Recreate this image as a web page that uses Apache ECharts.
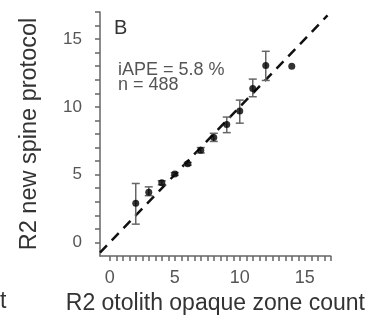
<!DOCTYPE html>
<html><head><meta charset="utf-8">
<script src="https://cdn.jsdelivr.net/npm/echarts@6/dist/echarts.min.js"></script>
<style>html,body{margin:0;padding:0;background:#fff}#c{width:368px;height:320px}</style>
</head><body><div id="c"></div>
<script>
// Data
const xCounts   = [2, 3, 4, 5, 6, 7, 8, 9, 10, 11, 12, 14];
const yMeans    = [2.9, 3.7, 4.4, 5.05, 5.8, 6.8, 7.75, 8.7, 9.7, 11.35, 13.05, 13.0];
const yLow      = [1.35, 3.45, 4.25, 4.95, 5.7, 6.6, 7.45, 8.1, 8.8, 10.75, 11.95, null];
const yHigh     = [4.35, 4.1, 4.55, 5.15, 5.9, 7.0, 8.05, 9.25, 10.5, 12.05, 14.1, null];
const lineXY    = [-0.75, 16.75];           // 1:1 reference line extent
const xTickLabels = [0, 5, 10, 15];
const yTickLabels = [0, 5, 10, 15];
const xTicks = [0,0.5,1,1.5,2,2.5,3,3.5,4,4.5,5,5.5,6,6.5,7,7.5,8,8.5,9,9.5,10,10.5,11,11.5,12,12.5,13,13.5,14,14.5,15,15.5,16,16.5,17];
const yTicks = [0,1,2,3,4,5,6,7,8,9,10,11,12,13,14,15,16,17];
const panelLabel = 'B';
const statsText = ['iAPE = 5.8 %', 'n = 488'];

const font = '"Liberation Sans", Arial, sans-serif';
const pts = xCounts.map((x, i) => [x, yMeans[i]]);
const errs = xCounts.map((x, i) => [x, yLow[i], yHigh[i]]).filter(d => d[1] != null);

const chart = echarts.init(document.getElementById('c'), null, {renderer: 'canvas'});
chart.setOption({
  animation: false,
  grid: {left: 100, top: 12, width: 240, height: 244, containLabel: false},
  xAxis: {
    type: 'value', min: -0.75, max: 17,
    name: 'R2 otolith opaque zone count', nameLocation: 'middle', nameGap: 34,
    nameTextStyle: {fontFamily: font, fontSize: 23, color: '#333'},
    axisLine: {show: true, onZero: false, lineStyle: {color: '#666', width: 1.5}},
    axisTick: {show: true, customValues: xTicks, length: 5, lineStyle: {color: '#666', width: 1.5}},
    axisLabel: {customValues: xTickLabels, margin: 13, fontFamily: font, fontSize: 18, color: '#555'},
    splitLine: {show: false}
  },
  yAxis: {
    type: 'value', min: -1, max: 17,
    name: 'R2 new spine protocol', nameLocation: 'middle', nameGap: 58, nameRotate: 90,
    nameTextStyle: {fontFamily: font, fontSize: 23.5, color: '#333'},
    axisLine: {show: true, onZero: false, lineStyle: {color: '#666', width: 1.5}},
    axisTick: {show: true, customValues: yTicks, length: 5, lineStyle: {color: '#666', width: 1.5}},
    axisLabel: {customValues: yTickLabels, margin: 18, fontFamily: font, fontSize: 17, color: '#555'},
    splitLine: {show: false}
  },
  graphic: [
    {type: 'text', left: 114, top: 18, style: {text: panelLabel, font: '20px ' + font, fill: '#333'}},
    {type: 'text', left: 118, top: 61, style: {text: statsText[0], font: '18px ' + font, fill: '#555'}},
    {type: 'text', left: 118, top: 76, style: {text: statsText[1], font: '18px ' + font, fill: '#555'}},
    {type: 'text', left: 0, top: 290, style: {text: 't', font: '23px ' + font, fill: '#333'}}
  ],
  series: [
    {
      type: 'line', data: [[lineXY[0], lineXY[0]], [lineXY[1], lineXY[1]]],
      showSymbol: false, symbol: 'none', z: 1, clip: true,
      lineStyle: {color: '#111', width: 2.5, type: [10, 7]}
    },
    {
      type: 'custom', z: 2, data: errs,
      renderItem: function (params, api) {
        const top = api.coord([api.value(0), api.value(2)]);
        const bot = api.coord([api.value(0), api.value(1)]);
        const hw = 4;
        const st = {stroke: '#666', lineWidth: 1.5};
        return {type: 'group', children: [
          {type: 'line', shape: {x1: top[0], y1: top[1], x2: bot[0], y2: bot[1]}, style: st},
          {type: 'line', shape: {x1: top[0]-hw, y1: top[1], x2: top[0]+hw, y2: top[1]}, style: st},
          {type: 'line', shape: {x1: bot[0]-hw, y1: bot[1], x2: bot[0]+hw, y2: bot[1]}, style: st}
        ]};
      }
    },
    {
      type: 'scatter', z: 3, data: pts, symbolSize: 7,
      itemStyle: {color: '#000'}
    }
  ]
});
</script></body></html>
